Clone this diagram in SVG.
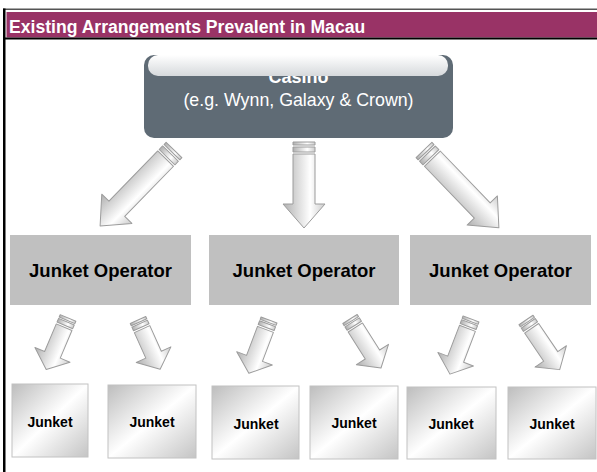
<svg xmlns="http://www.w3.org/2000/svg" width="597" height="472" viewBox="0 0 597 472">
<defs>
<linearGradient id="ag" x1="0" y1="0" x2="0" y2="1">
<stop offset="0" stop-color="#cccccc"/>
<stop offset="0.35" stop-color="#ffffff"/>
<stop offset="1" stop-color="#b0b0b0"/>
</linearGradient>
<linearGradient id="jg" x1="0" y1="0" x2="1" y2="1">
<stop offset="0" stop-color="#bdbdbd"/>
<stop offset="0.5" stop-color="#ffffff"/>
<stop offset="1" stop-color="#c4c4c4"/>
</linearGradient>
<linearGradient id="pg" x1="0" y1="0" x2="0" y2="1">
<stop offset="0" stop-color="#ffffff"/>
<stop offset="1" stop-color="#d6d9dc"/>
</linearGradient>
</defs>
<style>
.arr{fill:url(#ag);stroke:#9c9c9c;stroke-width:1;stroke-linejoin:round}
.op{fill:#c0c0c0}
.opt{font-family:"Liberation Sans",Arial,sans-serif;font-weight:bold;font-size:18.5px;fill:#000;text-anchor:middle}
.jk{fill:url(#jg);stroke:#c2c2c2;stroke-width:1}
.jkt{font-family:"Liberation Sans",Arial,sans-serif;font-weight:bold;font-size:14px;fill:#000;text-anchor:middle}
</style>
<rect width="597" height="472" fill="#ffffff"/>
<g id="header">
<rect x="3" y="8.5" width="594" height="1.5" fill="#555555"/>
<rect x="3" y="8.5" width="2.5" height="463.5" fill="#000000"/>
<rect x="6.5" y="12" width="590.5" height="25.5" fill="#993366"/>
<rect x="5" y="37.5" width="592" height="2" fill="#000000"/>
<text x="9" y="33" font-family="'Liberation Sans',Arial,sans-serif" font-weight="bold" font-size="17.6" fill="#ffffff">Existing Arrangements Prevalent in Macau</text>
</g>
<g id="casino">
<rect x="144" y="55" width="309" height="83" rx="10" ry="10" fill="#5f6b75"/>
<text x="298.5" y="83" font-family="'Liberation Sans',Arial,sans-serif" font-weight="bold" font-size="18" fill="#ffffff" text-anchor="middle">Casino</text>
<rect x="148" y="55" width="300" height="21" rx="10" ry="10" fill="url(#pg)"/>
<text x="298.5" y="106" font-family="'Liberation Sans',Arial,sans-serif" font-size="17.8" fill="#ffffff" text-anchor="middle">(e.g. Wynn, Galaxy &amp; Crown)</text>
</g>
<g id="connectors">
<g transform="translate(174,150) rotate(134.2)">
<rect class="arr" x="0" y="-11" width="3" height="22"/>
<rect class="arr" x="5" y="-11" width="5" height="22"/>
<path class="arr" d="M12,-11 H82 V-21 L106,0 L82,21 V11 H12 Z"/>
</g>
<g transform="translate(304,142) rotate(90)">
<rect class="arr" x="0" y="-11" width="3" height="22"/>
<rect class="arr" x="5" y="-11" width="5" height="22"/>
<path class="arr" d="M12,-11 H62 V-21 L86,0 L62,21 V11 H12 Z"/>
</g>
<g transform="translate(424,150) rotate(46.1)">
<rect class="arr" x="0" y="-11" width="3" height="22"/>
<rect class="arr" x="5" y="-11" width="5" height="22"/>
<path class="arr" d="M12,-11 H84 V-21 L108,0 L84,21 V11 H12 Z"/>
</g>
<g transform="translate(68,318) rotate(112.9)">
<rect class="arr" x="0" y="-8.5" width="2.5" height="17"/>
<rect class="arr" x="4" y="-8.5" width="4" height="17"/>
<path class="arr" d="M10,-8.5 H40 V-19 L56,0 L40,19 V8.5 H10 Z"/>
</g>
<g transform="translate(138,320) rotate(65.8)">
<rect class="arr" x="0" y="-8.5" width="2.5" height="17"/>
<rect class="arr" x="4" y="-8.5" width="4" height="17"/>
<path class="arr" d="M10,-8.5 H38 V-19 L54,0 L38,19 V8.5 H10 Z"/>
</g>
<g transform="translate(269,320) rotate(110.7)">
<rect class="arr" x="0" y="-8.5" width="2.5" height="17"/>
<rect class="arr" x="4" y="-8.5" width="4" height="17"/>
<path class="arr" d="M10,-8.5 H41 V-19 L57,0 L41,19 V8.5 H10 Z"/>
</g>
<g transform="translate(350,319) rotate(57.7)">
<rect class="arr" x="0" y="-8.5" width="2.5" height="17"/>
<rect class="arr" x="4" y="-8.5" width="4" height="17"/>
<path class="arr" d="M10,-8.5 H42 V-19 L58,0 L42,19 V8.5 H10 Z"/>
</g>
<g transform="translate(471,319) rotate(110.9)">
<rect class="arr" x="0" y="-8.5" width="2.5" height="17"/>
<rect class="arr" x="4" y="-8.5" width="4" height="17"/>
<path class="arr" d="M10,-8.5 H43 V-19 L59,0 L43,19 V8.5 H10 Z"/>
</g>
<g transform="translate(526,320) rotate(55.8)">
<rect class="arr" x="0" y="-8.5" width="2.5" height="17"/>
<rect class="arr" x="4" y="-8.5" width="4" height="17"/>
<path class="arr" d="M10,-8.5 H44 V-19 L60,0 L44,19 V8.5 H10 Z"/>
</g>
</g>
<g id="op1"><rect class="op" x="10" y="235" width="181" height="70"/><text class="opt" x="100.5" y="276.7">Junket Operator</text></g>
<g id="op2"><rect class="op" x="209" y="235" width="190" height="70"/><text class="opt" x="304" y="276.7">Junket Operator</text></g>
<g id="op3"><rect class="op" x="410" y="235" width="181" height="70"/><text class="opt" x="500.5" y="276.7">Junket Operator</text></g>
<g id="junket1"><rect class="jk" x="12" y="384" width="76" height="73"/><text class="jkt" x="50" y="426.7">Junket</text></g>
<g id="junket2"><rect class="jk" x="108" y="385" width="88" height="73"/><text class="jkt" x="152" y="427.3">Junket</text></g>
<g id="junket3"><rect class="jk" x="212" y="386" width="87" height="73"/><text class="jkt" x="256" y="429">Junket</text></g>
<g id="junket4"><rect class="jk" x="310" y="386" width="88" height="73"/><text class="jkt" x="354" y="428.3">Junket</text></g>
<g id="junket5"><rect class="jk" x="407" y="387" width="89" height="72"/><text class="jkt" x="451" y="429.3">Junket</text></g>
<g id="junket6"><rect class="jk" x="508" y="387" width="88" height="72"/><text class="jkt" x="552" y="429.3">Junket</text></g>
</svg>
